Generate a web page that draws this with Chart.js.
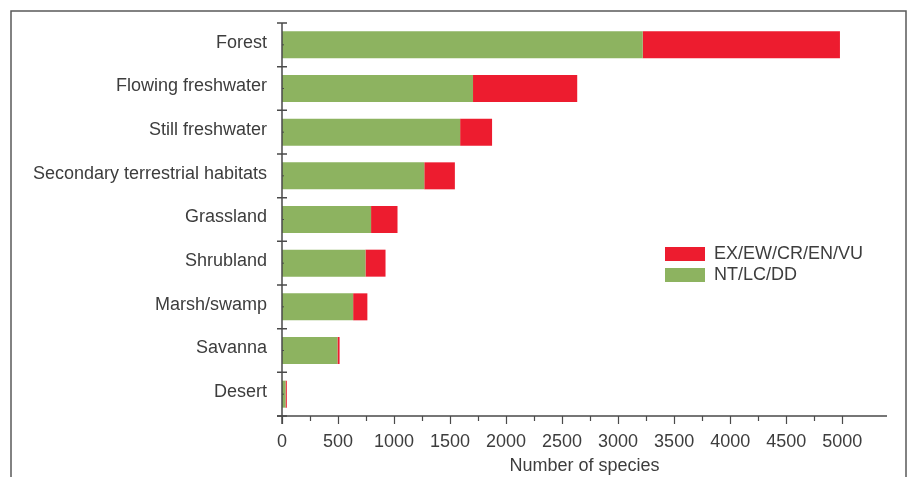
<!DOCTYPE html>
<html>
<head>
<meta charset="utf-8">
<script src="https://cdn.jsdelivr.net/npm/chart.js@4.4.0/dist/chart.umd.min.js"></script>
<style>
html,body{margin:0;padding:0;background:#fff;}
#wrap{width:913px;height:477px;position:relative;}
</style>
</head>
<body>
<div id="wrap"><canvas id="c" width="913" height="477"></canvas></div>
<script>
const categories = ["Forest", "Flowing freshwater", "Still freshwater", "Secondary terrestrial habitats", "Grassland", "Shrubland", "Marsh/swamp", "Savanna", "Desert"];
const notThreatened = [3220, 1705, 1590, 1270, 795, 745, 635, 495, 32];
const threatened = [1760, 930, 285, 273, 236, 179, 127, 19, 11];
const seriesLabels = ["NT/LC/DD", "EX/EW/CR/EN/VU"];
const xTickLabels = ["0", "500", "1000", "1500", "2000", "2500", "3000", "3500", "4000", "4500", "5000"];
const xAxisTitle = "Number of species";

const TEXT = '#3d3d3d';
const AXIS = '#4a4a4a';
Chart.defaults.font.family = '"Liberation Sans", Arial, sans-serif';
Chart.defaults.font.size = 18;
Chart.defaults.color = TEXT;

const decor = {
  id: 'decor',
  beforeDraw(chart) {
    const ctx = chart.ctx;
    ctx.save();
    ctx.fillStyle = '#fff';
    ctx.fillRect(0, 0, chart.width, chart.height);
    ctx.strokeStyle = '#5a5a5a';
    ctx.lineWidth = 1.5;
    ctx.beginPath();
    ctx.moveTo(11, chart.height);
    ctx.lineTo(11, 11);
    ctx.lineTo(906, 11);
    ctx.lineTo(906, chart.height);
    ctx.stroke();
    ctx.restore();
    const lg = chart.legend;
    if (lg) {
      const w = lg.width, h = lg.height;
      lg.left = 662; lg.top = 242; lg.right = 662 + w; lg.bottom = 242 + h;
    }
  },
  afterDraw(chart) {
    const ctx = chart.ctx;
    const xs = chart.scales.x, ys = chart.scales.y;
    const ax = ys.right, ay = xs.top;
    ctx.save();
    ctx.strokeStyle = AXIS;
    ctx.lineWidth = 1.5;
    ctx.beginPath();
    ctx.moveTo(ax - 5, ay);
    ctx.lineTo(xs.right, ay);
    ctx.moveTo(ax, ys.top);
    ctx.lineTo(ax, ay + 8);
    ctx.stroke();
    ctx.lineWidth = 1.2;
    ctx.beginPath();
    xs.ticks.forEach(t => {
      if (t.value % 250 !== 0) return;
      const px = Math.round(xs.getPixelForValue(t.value)) + 0.5;
      const len = t.value % 500 === 0 ? 8 : 5;
      ctx.moveTo(px, ay);
      ctx.lineTo(px, ay + len);
    });
    ctx.stroke();
    ctx.lineWidth = 1.5;
    ctx.beginPath();
    for (let i = 0; i <= categories.length; i++) {
      const py = ys.getPixelForValue(i - 0.5);
      ctx.moveTo(ax - 5, py);
      ctx.lineTo(ax + 5, py);
    }
    ctx.stroke();
    ctx.lineWidth = 1;
    ctx.beginPath();
    for (let i = 0; i < categories.length; i++) {
      const py = ys.getPixelForValue(i);
      ctx.moveTo(ax, py);
      ctx.lineTo(ax + 2, py);
    }
    ctx.stroke();
    ctx.restore();
  }
};

new Chart(document.getElementById('c'), {
  type: 'bar',
  data: {
    labels: categories,
    datasets: [
      { label: seriesLabels[0], data: notThreatened, backgroundColor: '#8db360', borderWidth: 0 },
      { label: seriesLabels[1], data: threatened, backgroundColor: '#ed1c2f', borderWidth: 0 }
    ]
  },
  options: {
    indexAxis: 'y',
    responsive: false,
    animation: false,
    layout: { padding: { left: 0, right: 26, top: 23, bottom: 0 } },
    datasets: { bar: { categoryPercentage: 1, barPercentage: 0.618 } },
    plugins: {
      legend: {
        position: 'chartArea',
        align: 'start',
        reverse: true,
        labels: { boxWidth: 40, boxHeight: 14, padding: 3, font: { size: 18 }, color: TEXT }
      },
      tooltip: { enabled: false }
    },
    scales: {
      x: {
        type: 'linear',
        stacked: true,
        min: 0,
        max: 5400,
        grid: { display: false },
        border: { display: false },
        ticks: {
          stepSize: 250,
          autoSkip: false,
          maxRotation: 0,
          padding: 7,
          callback: v => (v % 500 === 0 ? xTickLabels[v / 500] : '')
        },
        title: { display: true, text: xAxisTitle, padding: { top: 0, bottom: 0 }, font: { size: 18 } },
        afterFit: s => { s.height = 61; }
      },
      y: {
        stacked: true,
        grid: { display: false },
        border: { display: false },
        ticks: { padding: 7, autoSkip: false, labelOffset: -2 },
        afterFit: s => { s.width = 282; }
      }
    }
  },
  plugins: [decor]
});
</script>
</body>
</html>
